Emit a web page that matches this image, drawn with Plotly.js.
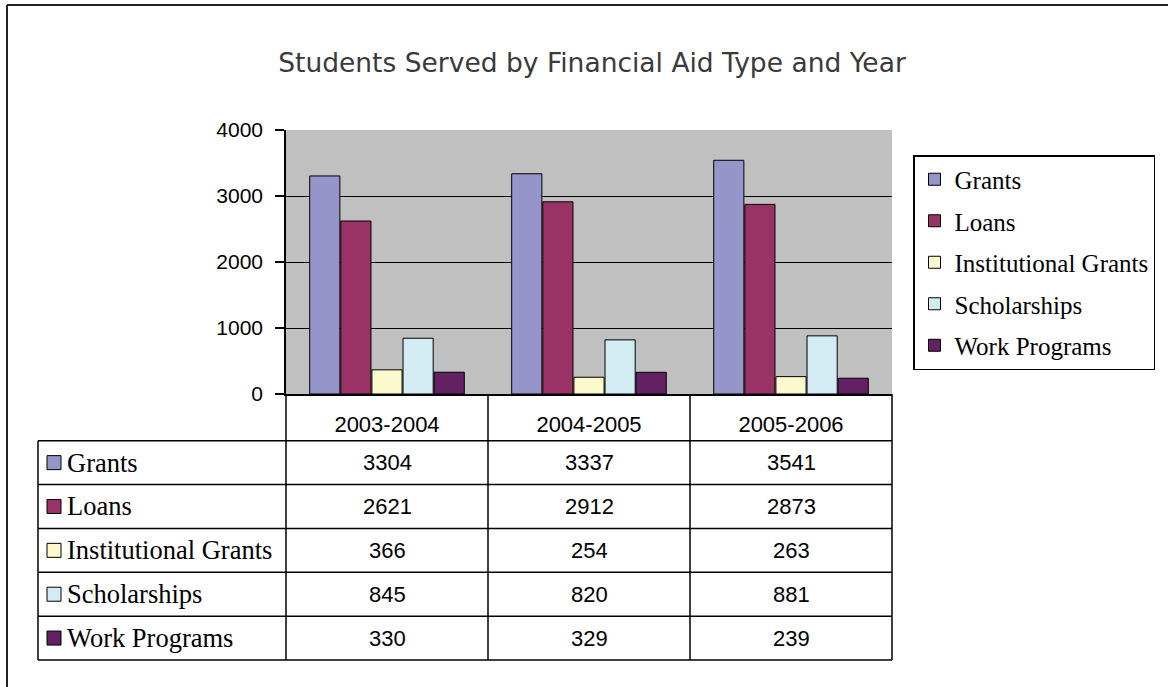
<!DOCTYPE html>
<html><head><meta charset="utf-8">
<script src="https://cdn.plot.ly/plotly-3.0.1.min.js"></script>
<style>html,body{margin:0;padding:0;background:#fff;}#chart{width:1168px;height:687px;}</style>
</head><body><div id="chart"></div>
<script>
// ---- data ----
const years = ['2003-2004', '2004-2005', '2005-2006'];
const seriesNames = ['Grants', 'Loans', 'Institutional Grants', 'Scholarships', 'Work Programs'];
const grants = [3304, 3337, 3541];
const loans = [2621, 2912, 2873];
const institutionalGrants = [366, 254, 263];
const scholarships = [845, 820, 881];
const workPrograms = [330, 329, 239];
const seriesValues = [grants, loans, institutionalGrants, scholarships, workPrograms];
const yTicks = [0, 1000, 2000, 3000, 4000];

// ---- styles ----
const seriesColors = ['#9595C9', '#993366', '#FCF9CD', '#D3ECF3', '#632063'];
const W = 1168, H = 687;
const L = 286, R = 892, T = 130, B = 394;
const PW = R - L, PH = B - T;
const px = x => (x - L) / PW;
const py = y => (B - y) / PH;
const xRange = [-0.5, years.length - 0.5];
const catEdge = i => (i - 0.5 - xRange[0]) / (xRange[1] - xRange[0]); // paper x of left edge of category i

const tableLeft = 38;
const headerBottom = 440.7;
const tableBottom = 660;
const rowH = (tableBottom - headerBottom) / seriesNames.length;
const rowCenter = i => headerBottom + rowH * (i + 0.5);
const lineStyle = {color: '#000', width: 1.5};

const sansFont = 'Liberation Sans, Arial, sans-serif';
const serifFont = 'Liberation Serif, Times New Roman, serif';

const traces = seriesNames.map((name, i) => ({
  type: 'bar',
  name: name,
  x: years,
  y: seriesValues[i],
  legendgroup: name,
  marker: {color: seriesColors[i], line: {color: '#000', width: 1}},
  hoverinfo: 'x+y+name'
}));

const shapes = [];
const annotations = [];

// outer chart border
shapes.push({type: 'line', xref: 'paper', yref: 'paper', x0: px(7), x1: px(W + 5), y0: py(5), y1: py(5), line: {color: '#222', width: 2}});
shapes.push({type: 'line', xref: 'paper', yref: 'paper', x0: px(7), x1: px(7), y0: py(5), y1: py(H + 5), line: {color: '#222', width: 2}});

// table vertical lines
shapes.push({type: 'line', xref: 'paper', yref: 'paper', x0: px(tableLeft), x1: px(tableLeft), y0: py(headerBottom), y1: py(tableBottom), line: lineStyle});
for (let i = 0; i <= years.length; i++) {
  const xp = catEdge(i);
  shapes.push({type: 'line', xref: 'paper', yref: 'paper', x0: xp, x1: xp, y0: 0, y1: py(tableBottom), line: lineStyle});
}
// header bottom and row lines
for (let r = 0; r <= seriesNames.length; r++) {
  const yy = headerBottom + rowH * r;
  shapes.push({type: 'line', xref: 'paper', yref: 'paper', x0: px(tableLeft), x1: 1, y0: py(yy), y1: py(yy), line: lineStyle});
}

// row labels with key squares, and cell values
seriesNames.forEach((name, i) => {
  const cy = rowCenter(i);
  shapes.push({type: 'rect', xref: 'paper', yref: 'paper',
    x0: px(47), x1: px(61), y0: py(cy - 7), y1: py(cy + 7),
    fillcolor: seriesColors[i], line: {color: '#000', width: 1}});
  annotations.push({xref: 'paper', yref: 'paper', x: px(65), y: py(cy), xanchor: 'left', yanchor: 'middle',
    text: name, showarrow: false, font: {family: serifFont, size: 26.5, color: '#000'}});
  years.forEach((yr, j) => {
    annotations.push({xref: 'x', yref: 'paper', x: yr, y: py(cy), xanchor: 'center', yanchor: 'middle',
      text: String(seriesValues[i][j]), showarrow: false, font: {family: sansFont, size: 22, color: '#000'}});
  });
});

const layout = {
  width: W, height: H,
  margin: {l: L, r: W - R, t: T, b: H - B, pad: 0},
  paper_bgcolor: '#fff',
  plot_bgcolor: '#C0C0C0',
  title: {
    text: 'Students Served by Financial Aid Type and Year',
    font: {family: 'DejaVu Sans, Verdana, sans-serif', size: 26.5, color: '#3a3a3a'},
    xref: 'paper', x: px(592), xanchor: 'center',
    yref: 'container', y: 1 - 63 / H, yanchor: 'middle'
  },
  barmode: 'group',
  bargap: 0.23,
  bargroupgap: 0.03,
  showlegend: true,
  legend: {
    x: px(913), y: py(155), xanchor: 'left', yanchor: 'top',
    bgcolor: '#fff', bordercolor: '#000', borderwidth: 1.5,
    font: {family: serifFont, size: 25, color: '#000'},
    tracegroupgap: 6,
    traceorder: 'grouped'
  },
  xaxis: {
    type: 'category', categoryorder: 'array', categoryarray: years,
    range: xRange, fixedrange: true,
    showgrid: false, zeroline: false,
    showline: true, linecolor: '#000', linewidth: 1.5,
    ticks: '', showticklabels: true, ticklabelstandoff: 10,
    tickfont: {family: sansFont, size: 22, color: '#000'}
  },
  yaxis: {
    range: [0, 4000], fixedrange: true,
    tickvals: yTicks, ticktext: yTicks.map(String),
    showgrid: true, gridcolor: '#000', gridwidth: 1,
    zeroline: false,
    showline: true, linecolor: '#000', linewidth: 1.5,
    ticks: 'outside', ticklen: 9, tickwidth: 1.5, tickcolor: '#000',
    ticklabelstandoff: 8,
    tickfont: {family: sansFont, size: 21, color: '#000'}
  },
  shapes: shapes,
  annotations: annotations
};

Plotly.newPlot('chart', traces, layout, {displayModeBar: false, staticPlot: false});
</script>
</body></html>
